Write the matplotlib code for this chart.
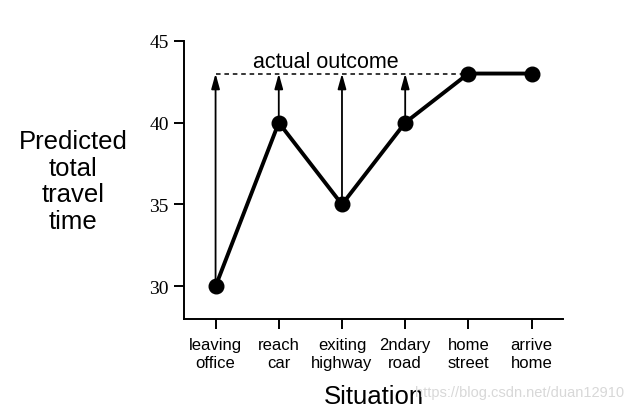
import numpy as np
import matplotlib
matplotlib.use('Agg')
import matplotlib.pyplot as plt

# 상황별 예측 총 이동 시간
situations = ['leaving\noffice', 'reach\ncar', 'exiting\nhighway',
              '2ndary\nroad', 'home\nstreet', 'arrive\nhome']
predicted = [30, 40, 35, 40, 43, 43]
actual_outcome = 43
y_ticks = [30, 35, 40, 45]

plt.rcParams['font.family'] = ['Liberation Sans', 'DejaVu Sans']

fig = plt.figure(figsize=(6.3, 4.14), dpi=100)
ax = fig.add_axes([0.292, 0.227, 0.602, 0.672])

x = np.arange(len(situations))

# 실제 결과 점선
ax.plot([x[0], x[4]], [actual_outcome, actual_outcome], color='black',
        linestyle=(0, (3, 2.5)), linewidth=1.1, zorder=2)
ax.text(1.75, 43.1, 'actual outcome', fontsize=15.5, ha='center', va='bottom')

# 각 예측값에서 실제 결과까지의 화살표
for xi, v in zip(x[:4], predicted[:4]):
    ax.annotate('', xy=(xi, actual_outcome), xytext=(xi, v),
                arrowprops=dict(arrowstyle='-|>,head_length=0.9,head_width=0.25',
                                color='black', lw=1.3, shrinkA=0, shrinkB=0),
                zorder=3)

ax.plot(x, predicted, color='black', linewidth=2.8, marker='o',
        markersize=10.5, zorder=4)

ax.set_xlim(-0.5, 5.5)
ax.set_ylim(28, 45)
ax.set_xticks(x)
ax.set_xticklabels(situations, fontsize=12, linespacing=1.25)
ax.set_yticks(y_ticks)
ax.set_yticklabels([str(t) for t in y_ticks], fontsize=14, family='Liberation Serif')
ax.tick_params(axis='both', direction='out', length=7, width=1.4)
ax.tick_params(axis='x', pad=6)
ax.tick_params(axis='y', pad=4)

for side in ['top', 'right']:
    ax.spines[side].set_visible(False)
for side in ['left', 'bottom']:
    ax.spines[side].set_linewidth(1.4)

ax.set_xlabel('Situation', fontsize=18.5, labelpad=10)
fig.text(0.116, 0.56, 'Predicted\ntotal\ntravel\ntime', fontsize=18.5,
         ha='center', va='center', linespacing=1.13)

fig.text(0.99, 0.035, 'https://blog.csdn.net/duan12910', fontsize=10.5,
         color='#d8d8d8', ha='right', va='bottom')

fig.savefig('out.png', dpi=100)
